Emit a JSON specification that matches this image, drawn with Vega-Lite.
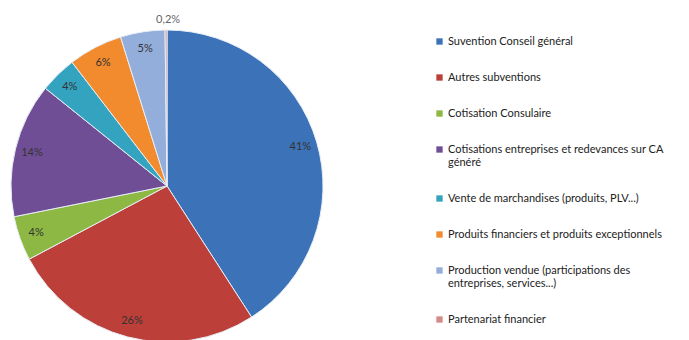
{
  "$schema": "https://vega.github.io/schema/vega-lite/v6.json",
  "autosize": {"type": "none"},
  "width": 334,
  "height": 340,
  "padding": {"left": 0, "top": 16, "right": 355, "bottom": 0},
  "background": "#ffffff",
  "config": {"view": {"stroke": null}, "font": "Lato"},
  "data": {
    "values": [
      {"order": 1, "categorie": "Suvention Conseil général", "part": 40.8, "etiquette": "41%"},
      {"order": 2, "categorie": "Autres subventions", "part": 26.3, "etiquette": "26%"},
      {"order": 3, "categorie": "Cotisation Consulaire", "part": 4.6, "etiquette": "4%"},
      {"order": 4, "categorie": "Cotisations entreprises et redevances sur CA|généré", "part": 13.9, "etiquette": "14%"},
      {"order": 5, "categorie": "Vente de marchandises (produits, PLV...)", "part": 3.8, "etiquette": "4%"},
      {"order": 6, "categorie": "Produits financiers et produits exceptionnels", "part": 5.6, "etiquette": "6%"},
      {"order": 7, "categorie": "Production vendue (participations des|entreprises, services...)", "part": 4.6, "etiquette": "5%"},
      {"order": 8, "categorie": "Partenariat financier", "part": 0.2, "etiquette": "0,2%"}
    ]
  },
  "encoding": {
    "theta": {"field": "part", "type": "quantitative", "stack": true},
    "order": {"field": "order", "type": "quantitative"}
  },
  "layer": [
    {
      "mark": {"type": "arc", "radius": 156, "stroke": "#e8eef6", "strokeWidth": 1},
      "encoding": {
        "color": {
          "field": "categorie",
          "type": "nominal",
          "sort": {"field": "order"},
          "scale": {
            "domain": [
              "Suvention Conseil général",
              "Autres subventions",
              "Cotisation Consulaire",
              "Cotisations entreprises et redevances sur CA|généré",
              "Vente de marchandises (produits, PLV...)",
              "Produits financiers et produits exceptionnels",
              "Production vendue (participations des|entreprises, services...)",
              "Partenariat financier"
            ],
            "range": ["#3c72b8", "#bc3f3a", "#8db843", "#6f4e96", "#33a3c0", "#f28a2e", "#93aedb", "#d48a88"]
          },
          "legend": {
            "orient": "none",
            "legendX": 434,
            "legendY": 20,
            "title": null,
            "symbolType": "square",
            "symbolSize": 40,
            "symbolStrokeWidth": 0,
            "labelFontSize": 11,
            "labelColor": "#222222",
            "labelFont": "Lato",
            "labelLimit": 270,
            "rowPadding": 24,
            "labelOffset": 3,
            "labelExpr": "split(datum.label, '|')"
          }
        }
      }
    },
    {
      "transform": [{"filter": "datum.order < 8"}],
      "mark": {"type": "text", "radius": 139, "fontSize": 11, "color": "#333333", "font": "Lato"},
      "encoding": {"text": {"field": "etiquette"}}
    },
    {
      "transform": [{"filter": "datum.order == 8"}],
      "mark": {"type": "text", "radius": 166, "fontSize": 11, "color": "#666666", "font": "Lato"},
      "encoding": {"text": {"field": "etiquette"}}
    }
  ]
}
